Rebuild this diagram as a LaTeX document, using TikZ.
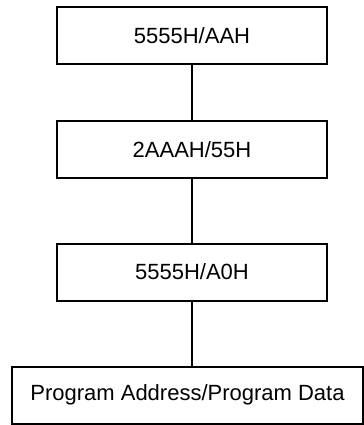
\documentclass[tikz,border=0pt]{standalone}
\usepackage{fontspec}
\setmainfont{Liberation Sans}
\usepackage{tikz}
\usetikzlibrary{shadows}

\begin{document}
\begin{tikzpicture}[
    x=0.75pt, y=-0.75pt,
    box/.style={rectangle, draw, fill=white, line width=1.5pt, inner sep=0pt, minimum height=42.75pt, minimum width=202.5pt, align=center, font=\fontsize{16.5}{19}\selectfont,
        general shadow={shadow xshift=0.6pt, shadow yshift=-0.6pt, fill=black}},
    widebox/.style={box, minimum width=263.25pt},
    link/.style={line width=0.8pt}
]
\useasboundingbox (0,0) rectangle (364,425);

% Nodes
\node[box] (first) at (192,35.5) {5555H/AAH};
\node[box] (second) at (192,149.5) {2AAAH/55H};
\node[box] (third) at (192,272) {5555H/A0H};

% Last step
\node[widebox] (program) at (187.5,395) {Program Address/Program Data};

% Lines
\draw[link] (first) -- (second);
\draw[link] (second) -- (third);
\draw[link] (third.south) -- (third.south |- program.north);

\end{tikzpicture}
\end{document}
